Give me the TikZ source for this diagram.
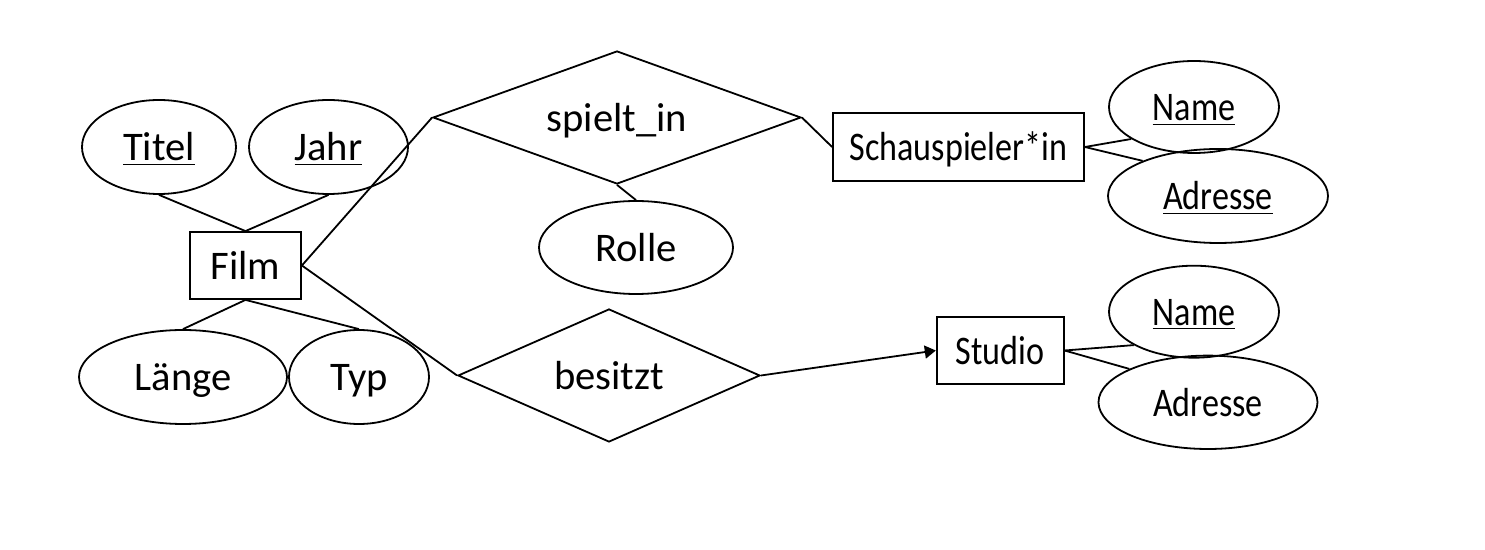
\documentclass[tikz,border=0pt]{standalone}
\usepackage{fontspec}
\setmainfont{Carlito}
\newfontfamily\condfont{Carlito}[FakeStretch=0.84]
\usetikzlibrary{shapes.geometric,arrows.meta}
\begin{document}
\begin{tikzpicture}[x=0.5pt,y=-0.5pt,
  every node/.style={font=\fontsize{20.3}{24}\selectfont, inner sep=0pt, text height=14pt, text depth=0pt},
  cond/.style={font=\condfont\fontsize{20.3}{24}\selectfont},
  line/.style={draw=black, line width=0.9pt},
  entity/.style={rectangle, draw, line width=0.9pt},
  attr/.style={ellipse, draw, line width=0.9pt},
  rel/.style={diamond, draw, line width=0.9pt, aspect=2.8},
  tip/.style={-{Triangle[length=5.5pt,width=6.5pt]}}]
\useasboundingbox (0,0) rectangle (1485,550);
% entities
\node[entity, minimum width=55.5pt, minimum height=33.5pt] (film) at (245.5,265.5) {Film};
\node[entity, cond, minimum width=125.5pt, minimum height=34pt] (schau) at (958.5,147) {Schauspieler*in};
\node[entity, cond, minimum width=63.5pt, minimum height=33.5pt] (studio) at (1000.2,350.5) {Studio};
% relationships
\node[rel, minimum width=184pt, minimum height=66.5pt] (spielt) at (617,117.5) {spielt\_in};
\node[rel, minimum width=151pt, minimum height=66.5pt] (besitzt) at (609,375.5) {besitzt};
% attributes
\node[attr, minimum width=77pt, minimum height=47pt] (titel) at (159,147) {\underline{Titel}};
\node[attr, minimum width=79.5pt, minimum height=47pt] (jahr) at (328.5,147) {\underline{Jahr}};
\node[attr, minimum width=104pt, minimum height=47pt] (laenge) at (183,377) {Länge};
\node[attr, minimum width=70pt, minimum height=47pt] (typ) at (359,377) {Typ};
\node[attr, minimum width=97pt, minimum height=46.5pt] (rolle) at (636,247.5) {Rolle};
\node[attr, cond, minimum width=85pt, minimum height=46pt] (name1) at (1194,107) {\underline{Name}};
\node[attr, cond, minimum width=110pt, minimum height=47pt] (adr1) at (1218,196) {\underline{Adresse}};
\node[attr, cond, minimum width=85pt, minimum height=46pt] (name2) at (1194,311.7) {\underline{Name}};
\node[attr, cond, minimum width=109.5pt, minimum height=46.7pt] (adr2) at (1208,402.3) {Adresse};
% connectors
\draw[line] (titel.south) -- (film.north);
\draw[line] (jahr.south) -- (film.north);
\draw[line] (film.south) -- (laenge.north);
\draw[line] (film.south) -- (typ.north);
\draw[line] (film.east) -- (spielt.west);
\draw[line] (film.east) -- (besitzt.west);
\draw[line] (spielt.south) -- (rolle.north);
\draw[line] (spielt.east) -- (schau.west);
\draw[line] (schau.east) -- (name1.207.7);
\draw[line] (schau.east) -- (adr1.155.9);
\draw[line, tip] (besitzt.east) -- (studio.west);
\draw[line] (studio.east) -- (name2.209);
\draw[line] (studio.east) -- (adr2.157);
\end{tikzpicture}
\end{document}
